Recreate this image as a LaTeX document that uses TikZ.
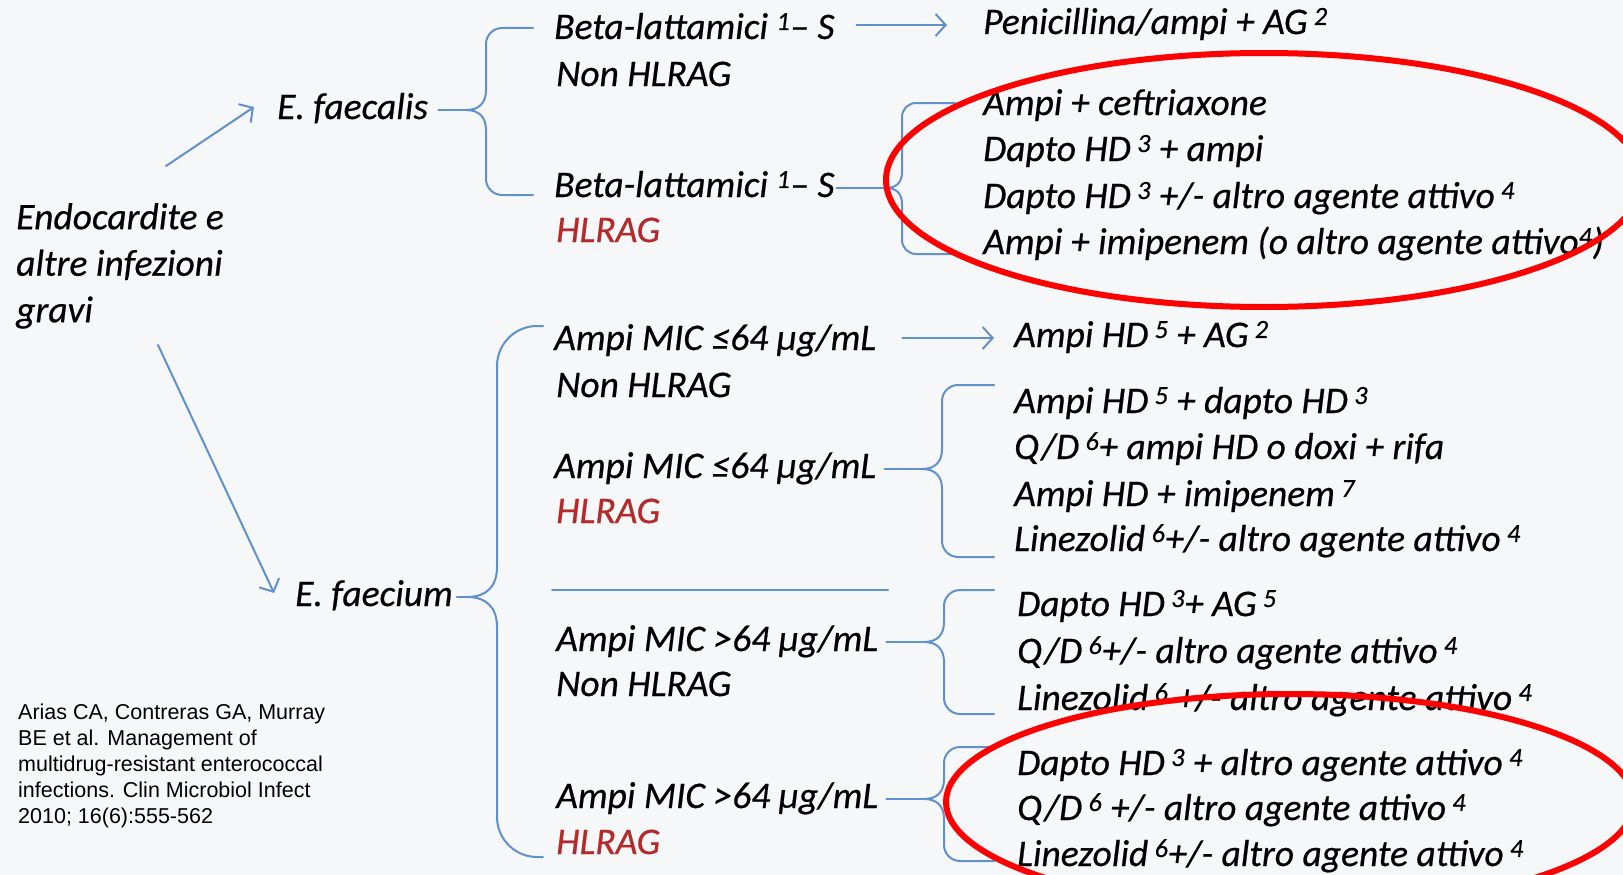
\documentclass[tikz,border=0pt]{standalone}
\usepackage{fontspec}
\setmainfont{Carlito}[ItalicFeatures={FakeBold=0.5}]
\newfontfamily\reffont{Liberation Sans}
\usetikzlibrary{arrows.meta,calc}
\definecolor{bgc}{RGB}{246,247,249}
\definecolor{blc}{RGB}{96,144,206}
\definecolor{hlc}{RGB}{180,42,42}
\definecolor{rdc}{RGB}{255,0,0}
\tikzset{
  tx/.style={anchor=base west, inner sep=0pt, font=\fontsize{37.5}{46}\selectfont\itshape, text height=26pt, text depth=8pt},
  hl/.style={tx, text=hlc},
  bline/.style={draw=blc, line width=2pt, line cap=round, line join=round},
  arr/.style={bline, -{Straight Barb[length=10pt,width=22pt]}},
  oval/.style={draw=rdc, line width=6pt},
  reft/.style={anchor=north west, inner sep=0pt, align=left, font=\reffont\fontsize{21.5}{26}\selectfont},
  endot/.style={anchor=north west, inner sep=0pt, align=left, font=\fontsize{37.5}{46.5}\selectfont\itshape}
}
% #1 name, #2 vx, #3 tip y, #4 top, #5 bottom, #6 end x, #7 hook radius, #8 tip size
\newcommand\Brc[8]{%
  \coordinate (#1) at ({#2-#8},#3);
  \draw[bline] (#1) .. controls ({#2-0.35*#8},#3) and (#2,{#3-0.35*#8}) .. (#2,{#3-#8})
     -- (#2,{#4+#7}) .. controls (#2,{#4+0.45*#7}) and ({#2+0.45*#7},#4) .. ({#2+#7},#4) -- (#6,#4);
  \draw[bline] (#1) .. controls ({#2-0.35*#8},#3) and (#2,{#3+0.35*#8}) .. (#2,{#3+#8})
     -- (#2,{#5-#7}) .. controls (#2,{#5-0.45*#7}) and ({#2+0.45*#7},#5) .. ({#2+#7},#5) -- (#6,#5);
}
\begin{document}
\begin{tikzpicture}[x=1pt,y=-1pt]
\useasboundingbox (0,0) rectangle (1623,875);
\fill[bgc] (0,0) rectangle (1623,875);
\clip (0,0) rectangle (1623,875);

% left block
\node[endot] (endo) at (16,203) {Endocardite e\\altre infezioni\\gravi};
\node[tx] (fae) at (277,119) {E. faecalis};
\node[tx] (fac) at (295,606) {E. faecium};
\coordinate (a1s) at (166,166);
\coordinate (a1e) at (254,107);
\coordinate (a2s) at (158,345);
\coordinate (a2e) at (274,593);
\draw[arr] (a1s) -- (a1e);
\draw[arr] (a2s) -- (a2e);

% E. faecalis branch
\node[tx] (beta1) at (554,39) {Beta-lattamici \textsuperscript{1}– S};
\node[tx] (non1) at (556,86) {Non HLRAG};
\node[tx] (pen) at (983,34) {Penicillina/ampi + AG\,\textsuperscript{2}};
\draw[arr] ([xshift=22pt]beta1.east |- pen.east) -- ([xshift=-36pt]pen.west);

\node[tx] (beta2) at (554,197) {Beta-lattamici \textsuperscript{1}– S};
\node[hl] (hl1) at (556,242) {HLRAG};
\node[tx] (r1a) at (983,115) {Ampi + ceftriaxone};
\node[tx] (r1b) at (983,161) {Dapto HD\,\textsuperscript{3} + ampi};
\node[tx] (r1c) at (983,208) {Dapto HD\,\textsuperscript{3} +/- altro agente attivo\,\textsuperscript{4}};
\node[tx] (r1d) at (983,254) {Ampi + imipenem (o altro agente attivo\textsuperscript{4})};

\Brc{b1}{486}{110}{28}{195}{533}{16}{20}
\draw[bline] ([xshift=10pt]fae.east) -- (b1);
\Brc{b2}{902}{188}{103}{254}{955}{14}{16}
\draw[bline] ([xshift=2pt]beta2.east) -- (b2);

% E. faecium branch
\Brc{b3}{497}{597}{326}{857}{543}{40}{30}
\draw[bline] ([xshift=4pt]fac.east) -- (b3);

\node[tx] (ampi1) at (554,350) {Ampi MIC ≤64 µg/mL};
\node[tx] (non2) at (556,397) {Non HLRAG};
\node[tx] (ahd) at (1014,347) {Ampi HD\,\textsuperscript{5} + AG\,\textsuperscript{2}};
\draw[arr] ([xshift=26pt]ampi1.east |- ahd.east) -- ([xshift=-20pt]ahd.west);

\node[tx] (ampi2) at (554,478) {Ampi MIC ≤64 µg/mL};
\node[hl] (hl2) at (556,523) {HLRAG};
\node[tx] (r2a) at (1014,413) {Ampi HD\,\textsuperscript{5} + dapto HD\,\textsuperscript{3}};
\node[tx] (r2b) at (1014,459) {Q/D\,\textsuperscript{6}+ ampi HD o doxi + rifa};
\node[tx] (r2c) at (1014,506) {Ampi HD + imipenem\,\textsuperscript{7}};
\node[tx] (r2d) at (1014,551) {Linezolid\,\textsuperscript{6}+/- altro agente attivo\,\textsuperscript{4}};
\Brc{b4}{942}{469}{385}{557}{994}{16}{20}
\draw[bline] ([xshift=8pt]ampi2.east) -- (b4);

\draw[bline] (552,590) -- (888,590);

\node[tx] (ampi3) at (556,651) {Ampi MIC >64 µg/mL};
\node[tx] (non3) at (556,696) {Non HLRAG};
\node[tx] (r3a) at (1017,616) {Dapto HD\,\textsuperscript{3}+ AG\,\textsuperscript{5}};
\node[tx] (r3b) at (1017,663) {Q/D\,\textsuperscript{6}+/- altro agente attivo\,\textsuperscript{4}};
\node[tx] (r3c) at (1017,710) {Linezolid\,\textsuperscript{6} +/- altro agente attivo\,\textsuperscript{4}};
\Brc{b5}{944}{642}{590}{714}{994}{16}{20}
\draw[bline] ([xshift=8pt]ampi3.east) -- (b5);

\node[tx] (ampi4) at (556,808) {Ampi MIC >64 µg/mL};
\node[hl] (hl3) at (556,854) {HLRAG};
\node[tx] (r4a) at (1017,775) {Dapto HD\,\textsuperscript{3} + altro agente attivo\,\textsuperscript{4}};
\node[tx] (r4b) at (1017,820) {Q/D\,\textsuperscript{6} +/- altro agente attivo\,\textsuperscript{4}};
\node[tx] (r4c) at (1017,866) {Linezolid\,\textsuperscript{6}+/- altro agente attivo\,\textsuperscript{4}};
\Brc{b6}{944}{799}{747}{861}{994}{16}{20}
\draw[bline] ([xshift=8pt]ampi4.east) -- (b6);

% red ovals
\draw[oval] (1264,180) ellipse [x radius=378pt, y radius=127pt];
\draw[oval] (1290,802) ellipse [x radius=344pt, y radius=108pt];

% reference
\node[reft] (ref) at (18,704) {Arias CA, Contreras GA, Murray\\BE et al. Management of\\multidrug-resistant enterococcal\\infections. Clin Microbiol Infect\\2010; 16(6):555-562};
\end{tikzpicture}
\end{document}
